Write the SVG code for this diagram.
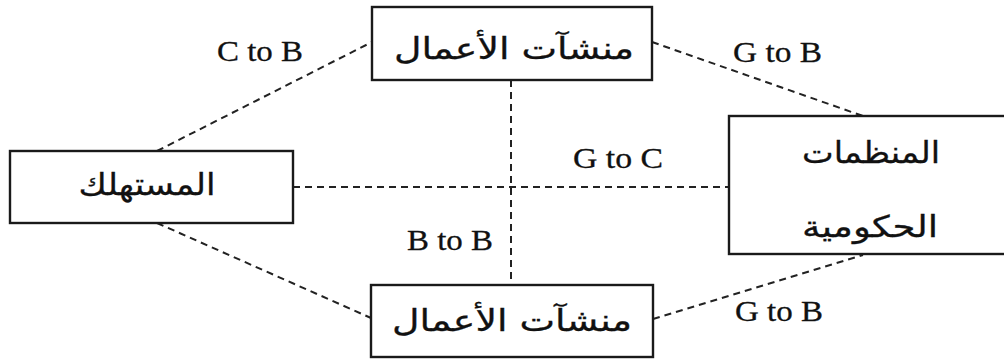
<svg xmlns="http://www.w3.org/2000/svg" width="1004" height="361" viewBox="0 0 1004 361">
<style>
.box{fill:#fff;stroke:#1a1a1a;stroke-width:2.4}
.ar{font-family:"DejaVu Sans",sans-serif;font-size:30px;fill:#111;text-anchor:middle;stroke:#111;stroke-width:0.3}
.lbl{font-family:"Liberation Serif",serif;font-size:29px;fill:#111;stroke:#111;stroke-width:0.3}
.con{stroke:#222;stroke-width:2;stroke-dasharray:7 5;fill:none}
</style>
<rect width="1004" height="361" fill="#fff"/>
<g id="connectors">
<line class="con" x1="157" y1="151" x2="372" y2="42"/>
<line class="con" x1="652" y1="42" x2="863" y2="116"/>
<line class="con" x1="293" y1="187" x2="729" y2="187"/>
<line class="con" x1="511" y1="80" x2="511" y2="285"/>
<line class="con" x1="157" y1="223" x2="371" y2="318"/>
<line class="con" x1="653" y1="319" x2="863" y2="255"/>
<text class="lbl" x="217" y="61" textLength="86" lengthAdjust="spacingAndGlyphs">C to B</text>
<text class="lbl" x="733" y="62" textLength="89" lengthAdjust="spacingAndGlyphs">G to B</text>
<text class="lbl" x="573" y="168" textLength="90" lengthAdjust="spacingAndGlyphs">G to C</text>
<text class="lbl" x="407" y="250" textLength="86" lengthAdjust="spacingAndGlyphs">B to B</text>
<text class="lbl" x="735" y="321" textLength="88" lengthAdjust="spacingAndGlyphs">G to B</text>
</g>
<g id="node-business-top">
<rect class="box" x="372" y="7" width="280" height="73"/>
<text class="ar" x="514" y="59" textLength="240" lengthAdjust="spacingAndGlyphs">منشآت الأعمال</text>
</g>
<g id="node-consumer">
<rect class="box" x="10" y="151" width="283" height="72"/>
<text class="ar" x="147" y="195" textLength="137" lengthAdjust="spacingAndGlyphs">المستهلك</text>
</g>
<g id="node-government">
<rect class="box" x="729" y="116" width="290" height="138"/>
<text class="ar" x="871" y="163" textLength="138" lengthAdjust="spacingAndGlyphs">المنظمات</text>
<text class="ar" x="870" y="237" textLength="136" lengthAdjust="spacingAndGlyphs">الحكومية</text>
</g>
<g id="node-business-bottom">
<rect class="box" x="371" y="285" width="282" height="72"/>
<text class="ar" x="512" y="331" textLength="240" lengthAdjust="spacingAndGlyphs">منشآت الأعمال</text>
</g>
</svg>
